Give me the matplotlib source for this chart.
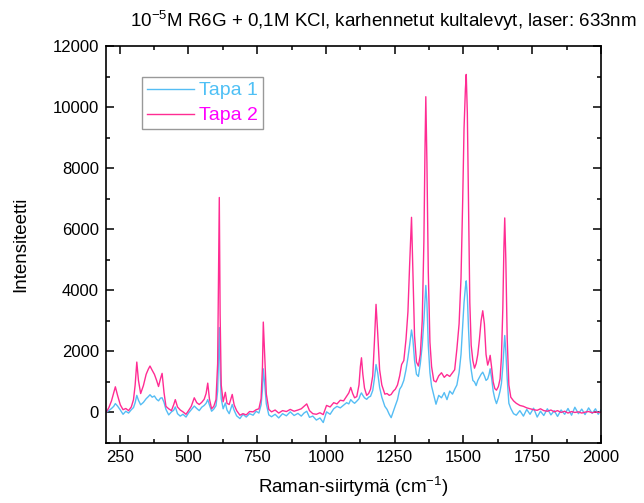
import matplotlib
matplotlib.use("Agg")
import matplotlib.pyplot as plt
from matplotlib.ticker import MultipleLocator

plt.rcParams["font.family"] = ["Liberation Sans", "DejaVu Sans"]
plt.rcParams["mathtext.fontset"] = "custom"
plt.rcParams["mathtext.rm"] = "Liberation Sans"
plt.rcParams["mathtext.it"] = "Liberation Sans:italic"
plt.rcParams["mathtext.bf"] = "Liberation Sans:bold"

# Raman shift (cm^-1)
raman_shift = [
    200, 210, 220, 228, 234, 242, 252, 262, 272, 282,
    292, 300, 306, 312, 318, 326, 336, 346, 354, 360,
    368, 376, 384, 391, 398, 404, 411, 418, 428, 438,
    446, 452, 460, 470, 480, 491, 500, 510, 521, 530,
    539, 548, 557, 564, 570, 576, 584, 592, 600, 606,
    609, 612, 615, 619, 626, 634, 640, 648, 659, 666,
    675, 687, 698, 710, 722, 735, 746, 756, 764, 769,
    772, 777, 783, 792, 802, 815, 828, 842, 856, 870,
    884, 898, 910, 920, 930, 940, 952, 965, 978, 990,
    1002, 1015, 1028, 1040, 1052, 1064, 1075, 1083, 1090, 1097,
    1104, 1112, 1120, 1125, 1129, 1134, 1140, 1148, 1155, 1162,
    1170, 1176, 1182, 1188, 1195, 1203, 1214, 1222, 1230, 1237,
    1245, 1252, 1260, 1268, 1275, 1283, 1291, 1298, 1304, 1311,
    1316, 1322, 1329, 1336, 1343, 1350, 1356, 1360, 1363, 1367,
    1372, 1378, 1384, 1392, 1400, 1410, 1420, 1430, 1440, 1450,
    1460, 1468, 1476, 1484, 1491, 1497, 1502, 1507, 1510, 1514,
    1518, 1523, 1528, 1534, 1540, 1546, 1552, 1558, 1564, 1570,
    1576, 1582, 1588, 1593, 1597, 1602, 1608, 1614, 1620, 1627,
    1633, 1638, 1643, 1647, 1650, 1654, 1659, 1665, 1672, 1682,
    1692, 1705, 1718, 1730, 1742, 1755, 1768, 1780, 1792, 1805,
    1818, 1830, 1842, 1855, 1868, 1880, 1893, 1905, 1918, 1930,
    1942, 1955, 1968, 1980, 1990, 2000,
]

tapa1 = [
    0, 60, 130, 200, 290, 210, 80, -60, 40, -20,
    90, 160, 320, 560, 400, 250, 330, 450, 520, 580,
    500, 540, 430, 380, 470, 480, 330, 100, -80, 20,
    70, 180, -40, -120, -60, -150, -20, 90, 210, 130,
    60, 170, 230, 300, 420, 250, 40, 110, 220, 700,
    1800, 2780, 1400, 450, 120, 310, 80, -40, 260, 70,
    -110, -200, -60, -150, -40, -90, 40, -20, 250, 760,
    1430, 950, 280, -80, -140, -60, -180, -40, -110, 20,
    -100, -30, -120, -20, 40, -160, -120, -250, -180, -330,
    20, -60, 120, 200, 150, 240, 320, 280, 420, 350,
    300, 370, 450, 580, 640, 560, 480, 430, 500, 530,
    720, 1100, 1570, 1300, 820, 500, 200, 100, -60, -170,
    40, 220, 420, 760, 860, 1050, 1400, 1800, 2200, 2700,
    2400, 1700, 1250, 1180, 1600, 2200, 3000, 3700, 4160, 3600,
    2200, 1300, 860, 560, 270, 560, 480, 650, 420, 700,
    600, 760, 900, 1300, 1900, 2800, 3600, 4100, 4310, 3800,
    2800, 1800, 1400, 1050, 1000, 880, 1050, 1150, 1250, 1320,
    1200, 1050, 1100, 1250, 1430, 1150, 700, 450, 290, 480,
    700, 950, 1500, 2100, 2520, 2000, 1100, 300, 130, -40,
    -90, 60, -120, 100, -60, 140, -150, 40, -100, 120,
    -80, 60, -130, 80, -60, 130, -90, 170, -40, 110,
    -70, 150, -30, 120, -60, 80,
]

tapa2 = [
    0, 150, 380, 650, 840, 560, 250, 90, 130, 60,
    180, 420, 900, 1650, 1050, 620, 880, 1250, 1420, 1520,
    1380, 1250, 1050, 850, 1100, 1280, 650, 200, 120, 60,
    250, 420, 180, 80, 20, -60, 60, 200, 480, 320,
    260, 330, 430, 620, 960, 450, 120, 200, 420, 1600,
    4500, 7040, 3200, 900, 350, 660, 300, 260, 590, 250,
    60, -90, -40, -80, 30, 20, 90, 120, 450, 1500,
    2960, 1900, 600, 100, 20, 80, -20, 60, 30, 100,
    40, 80, 120, 200, 280, 60, -40, -60, -10, -70,
    230, 180, 320, 280, 400, 380, 530, 640, 820, 620,
    480, 520, 900, 1500, 1790, 1250, 800, 560, 620, 760,
    1200, 2300, 3540, 2600, 1400, 900, 600, 620, 560, 590,
    700, 760, 900, 1200, 1570, 1700, 2400, 3300, 4800, 6390,
    4600, 2500, 1650, 1520, 1900, 3000, 5600, 8600, 10340, 8200,
    4600, 2300, 1500, 1040, 1000, 1200, 1300, 1150, 1240, 1180,
    1300, 1400, 2080, 2900, 4400, 6900, 9300, 10600, 11070, 9800,
    7000, 3600, 2200, 1700, 1450, 1600, 1900, 2400, 3000, 3330,
    2900, 1900, 1550, 1700, 1870, 1500, 1000, 780, 730, 850,
    1100, 1800, 3400, 5400, 6370, 5000, 2400, 900, 500, 380,
    300, 230, 200, 150, 120, 90, 70, 120, 60, 40,
    80, 20, 60, 0, 40, -20, 30, 0, 20, -20,
    10, 30, -10, 20, 0, 10,
]

series_labels = ["Tapa 1", "Tapa 2"]
line_colors = ["#55BDF4", "#FF2C93"]
legend_text_colors = ["#4FC0F5", "#FF00FF"]

fig = plt.figure(figsize=(6.44, 5.03), dpi=100)
ax = fig.add_axes([0.1646, 0.1193, 0.7686, 0.7892])

ax.plot(raman_shift, tapa1, color=line_colors[0], lw=1.0, label=series_labels[0])
ax.plot(raman_shift, tapa2, color=line_colors[1], lw=1.0, label=series_labels[1])

ax.set_xlim(200, 2000)
ax.set_ylim(-1000, 12000)
ax.xaxis.set_major_locator(MultipleLocator(250))
ax.xaxis.set_minor_locator(MultipleLocator(125))
ax.yaxis.set_major_locator(MultipleLocator(2000))
ax.yaxis.set_minor_locator(MultipleLocator(1000))
ax.tick_params(which="both", direction="in", top=True, right=True, width=1.1, labelsize=12)
ax.tick_params(which="major", length=6, pad=5)
ax.tick_params(which="minor", length=3)
for sp in ax.spines.values():
    sp.set_linewidth(1.2)

ax.set_xlabel("Raman-siirtymä (cm$^{-1}$)", fontsize=13.5, labelpad=7)
ax.set_ylabel("Intensiteetti", fontsize=13.5, labelpad=17)

fig.text(0.595, 0.958, "10$^{-5}$M R6G + 0,1M KCl, karhennetut kultalevyt, laser: 633nm",
         ha="center", va="center", fontsize=13.5)

leg = ax.legend(loc="upper left", bbox_to_anchor=(0.073, 0.922), fontsize=14,
                frameon=True, fancybox=False, edgecolor="#808080",
                handlelength=2.4, handletextpad=0.3, borderpad=0.25, labelspacing=0.38,
                borderaxespad=0)
leg.get_frame().set_linewidth(1.0)
for txt, c in zip(leg.get_texts(), legend_text_colors):
    txt.set_color(c)

fig.savefig("out.png", dpi=100)
